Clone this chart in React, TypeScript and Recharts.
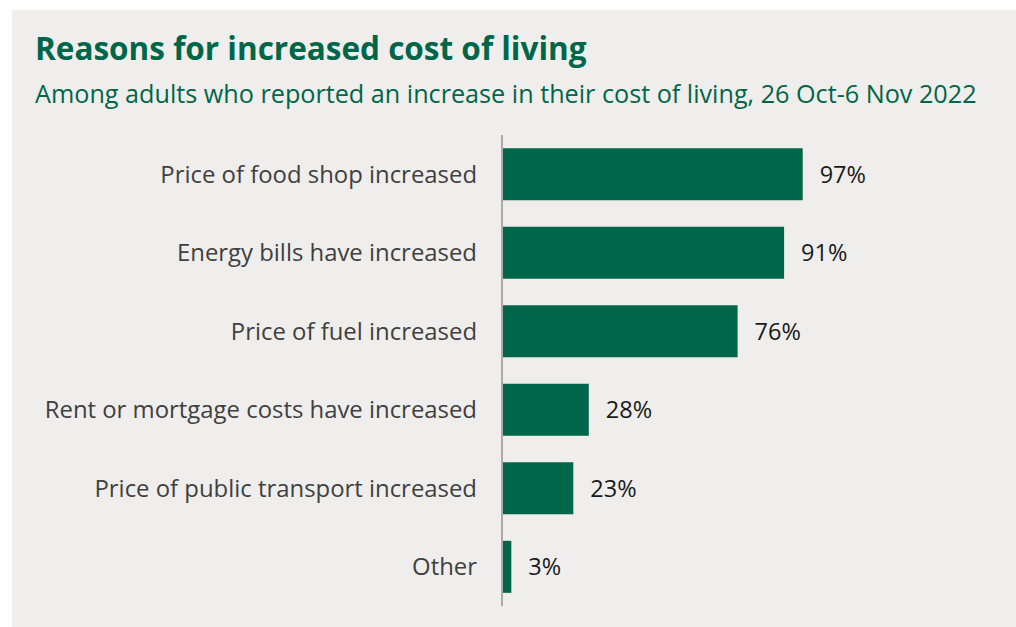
import { Bar, BarChart, LabelList, XAxis, YAxis } from "recharts";

const reasons = [
    "Price of food shop increased",
    "Energy bills have increased",
    "Price of fuel increased",
    "Rent or mortgage costs have increased",
    "Price of public transport increased",
    "Other",
];
const shares = [97, 91, 76, 28, 23, 3];

const data = reasons.map((name, i) => ({ name, value: shares[i] }));

const GREEN = "#006649";

export default function App() {
    return (
        <div
            style={{
                position: "fixed",
                left: 12,
                top: 10,
                width: 1004,
                height: 617,
                background: "#efeeec",
                fontFamily: "'Open Sans', sans-serif",
                overflow: "hidden",
            }}
        >
            <div
                style={{
                    position: "absolute",
                    left: 23,
                    top: 16,
                    fontSize: 31.5,
                    lineHeight: "normal",
                    fontWeight: 700,
                    color: GREEN,
                    whiteSpace: "nowrap",
                }}
            >
                Reasons for increased cost of living
            </div>
            <div
                style={{
                    position: "absolute",
                    left: 23,
                    top: 66,
                    fontSize: 25.2,
                    lineHeight: "normal",
                    color: GREEN,
                    whiteSpace: "nowrap",
                }}
            >
                Among adults who reported an increase in their cost of living, 26 Oct-6 Nov 2022
            </div>
            <BarChart
                width={1004}
                height={617}
                data={data}
                layout="vertical"
                margin={{ top: 125, right: 204, bottom: 21, left: 0 }}
                barCategoryGap="17%"
            >
                <XAxis type="number" domain={[0, 100]} hide />
                <YAxis
                    type="category"
                    dataKey="name"
                    width={490}
                    tickLine={false}
                    tickMargin={19}
                    axisLine={{ stroke: "#aaaaaa", strokeWidth: 2 }}
                    tick={{ fill: "#404040", fontSize: 23.9 }}
                />
                <Bar dataKey="value" fill={GREEN} isAnimationActive={false}>
                    <LabelList
                        dataKey="value"
                        position="right"
                        offset={17}
                        formatter={(v: any) => `${v}%`}
                        style={{ fill: "#1a1a1a", fontSize: 23.5 }}
                    />
                </Bar>
            </BarChart>
        </div>
    );
}
